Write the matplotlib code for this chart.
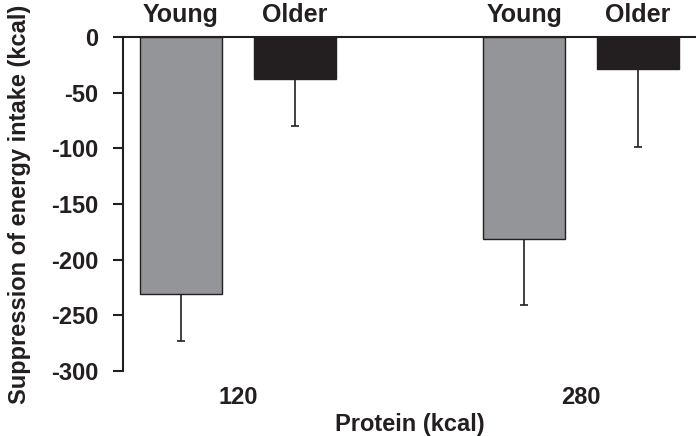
import matplotlib
matplotlib.use("Agg")
import matplotlib.pyplot as plt
import numpy as np

groups = ["120", "280"]
series = ["Young", "Older"]
young = [-231, -181]
older = [-38, -29]
young_err = [42, 60]
older_err = [42, 70]

plt.rcParams['font.family'] = ['Liberation Sans', 'DejaVu Sans']
plt.rcParams['font.weight'] = 'bold'

fig = plt.figure(figsize=(6.96, 4.36), dpi=100)
ax = fig.add_axes([123/696, 1-371/436, 1-123/696, (371-37)/436])

x = np.arange(len(groups))
off = 0.166
w = 0.239
colors = ["#939598", "#231f20"]
vals = [young, older]
errs = [young_err, older_err]
for i, (name, v, e) in enumerate(zip(series, vals, errs)):
    xs = x + (i*2-1)*off
    ax.bar(xs, v, width=w, color=colors[i], edgecolor="#231f20", linewidth=1.0, zorder=2)
    ax.errorbar(xs, v, yerr=[e, [0]*len(e)], fmt='none', ecolor="#231f20",
                elinewidth=1.2, capsize=3, capthick=1.2, zorder=1)
    for xi in xs:
        ax.text(xi, 13.5, name, ha='center', va='baseline', fontsize=18, fontweight='bold',
                color="#231f20", clip_on=False)

ax.set_xlim(-0.335, 1.335)
ax.set_ylim(-300, 0)
ax.set_yticks(np.arange(-300, 1, 50))
ax.set_yticklabels([str(t) for t in np.arange(-300, 1, 50)])
ax.set_xticks(x)
ax.set_xticklabels(groups)
ax.tick_params(axis='x', length=0, pad=11, labelsize=17, labelcolor="#231f20")
ax.tick_params(axis='y', length=7, width=1.5, pad=11, labelsize=17, color="#231f20", labelcolor="#231f20")
for lbl in ax.get_xticklabels() + ax.get_yticklabels():
    lbl.set_fontweight('bold')

ax.spines['right'].set_visible(False)
ax.spines['bottom'].set_visible(False)
ax.spines['left'].set_linewidth(1.5)
ax.spines['top'].set_linewidth(1.5)
ax.spines['left'].set_color("#231f20")
ax.spines['top'].set_color("#231f20")

ax.set_xlabel("Protein (kcal)", fontsize=17, fontweight='bold', color="#231f20", labelpad=3)
ax.set_ylabel("Suppression of energy intake (kcal)", fontsize=17, fontweight='bold', color="#231f20", labelpad=14)

fig.savefig("out.png", dpi=100)
